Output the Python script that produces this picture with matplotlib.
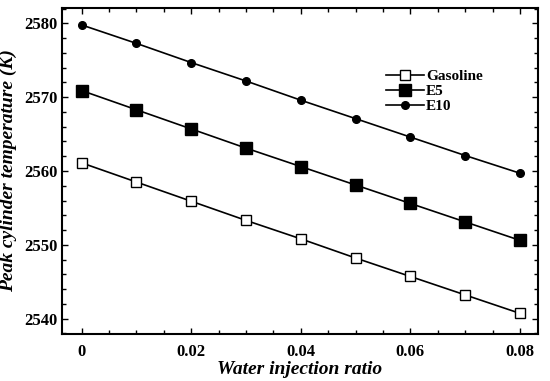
import matplotlib.pyplot as plt
from matplotlib.ticker import MultipleLocator

ratio = [0, 0.01, 0.02, 0.03, 0.04, 0.05, 0.06, 0.07, 0.08]
gasoline = [2561.1, 2558.5, 2555.9, 2553.3, 2550.8, 2548.2, 2545.7, 2543.2, 2540.7]
e5 = [2570.9, 2568.3, 2565.7, 2563.1, 2560.6, 2558.1, 2555.6, 2553.1, 2550.6]
e10 = [2579.8, 2577.3, 2574.7, 2572.2, 2569.6, 2567.1, 2564.6, 2562.1, 2559.7]

plt.rcParams['font.family'] = 'Liberation Serif'
plt.rcParams['font.weight'] = 'bold'

fig = plt.figure(figsize=(5.5, 3.81), dpi=100)
ax = fig.add_axes([62/550, 1 - 334/381, (538-62)/550, (334-8)/381])

ax.plot(ratio, gasoline, color='black', lw=1.2, marker='s', ms=6.5, mfc='white', mec='black', mew=1.0, label='Gasoline')
ax.plot(ratio, e5, color='black', lw=1.2, marker='s', ms=8, mfc='black', mec='black', label='E5')
ax.plot(ratio, e10, color='black', lw=1.2, marker='o', ms=5.5, mfc='black', mec='black', label='E10')

ax.set_xlim(-0.0036, 0.0833)
ax.set_ylim(2537.9, 2582.1)
ax.set_xticks([0, 0.02, 0.04, 0.06, 0.08])
ax.set_xticklabels(['0', '0.02', '0.04', '0.06', '0.08'])
ax.set_yticks([2540, 2550, 2560, 2570, 2580])
ax.xaxis.set_minor_locator(MultipleLocator(0.005))
ax.yaxis.set_minor_locator(MultipleLocator(2))
ax.tick_params(which='both', direction='in', top=True, right=True, labelsize=12, width=1)
ax.tick_params(which='major', length=4)
ax.tick_params(which='minor', length=3)
ax.tick_params(axis='x', pad=7)
for s in ax.spines.values():
    s.set_linewidth(1.5)

ax.set_xlabel('Water injection ratio', fontsize=14, fontweight='bold', style='italic', labelpad=1)
ax.set_ylabel('Peak cylinder temperature (K)', fontsize=14, fontweight='bold', style='italic', labelpad=5)

leg = ax.legend(loc='upper left', bbox_to_anchor=(0.665, 0.835), frameon=False, fontsize=11,
                handlelength=2.5, handletextpad=0.1, labelspacing=0.08, borderpad=0)

fig.savefig('out.png', dpi=100)
